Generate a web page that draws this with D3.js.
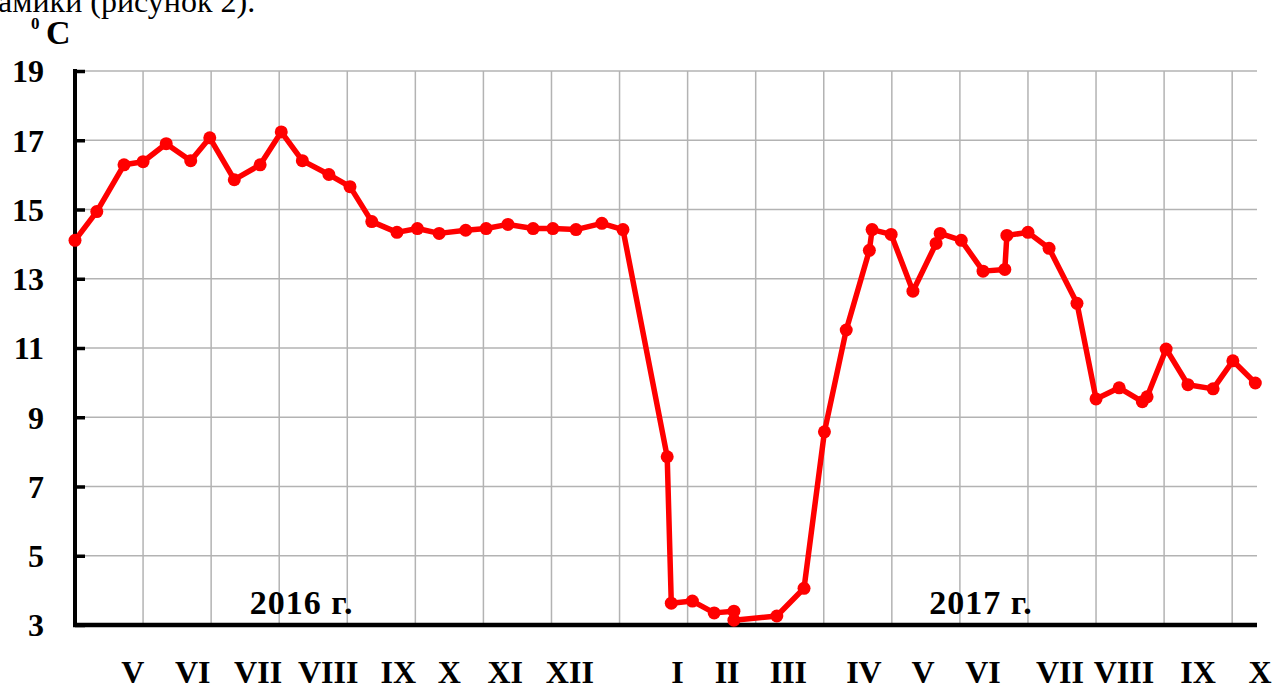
<!DOCTYPE html>
<html>
<head>
<meta charset="utf-8">
<script src="https://cdn.jsdelivr.net/npm/d3@7"></script>
<style>
  html, body { margin: 0; padding: 0; background: #fff; }
  svg { display: block; }
  text { font-family: "Liberation Serif", "Times New Roman", serif; }
</style>
</head>
<body>
<svg id="chart" width="1275" height="686"></svg>
<script>
// Decade-averaged temperature, April 2016 – October 2017.
// x: months elapsed since the start of April 2016; y: temperature, °C.
const monthPos = [0, 0.32, 0.72, 1.0, 1.34, 1.70, 1.98, 2.34, 2.72, 3.03, 3.34, 3.73, 4.04, 4.36, 4.73,
  5.03, 5.35, 5.74, 6.04, 6.36, 6.73, 7.02, 7.36, 7.74, 8.05, 8.70, 8.76, 9.07, 9.39, 9.68, 9.68,
  10.31, 10.71, 11.01, 11.33, 11.67, 11.71, 11.99, 12.31, 12.65, 12.71, 13.02, 13.34, 13.66, 13.69,
  14.00, 14.31, 14.72, 15.00, 15.34, 15.68, 15.75, 16.03, 16.35, 16.72, 17.01, 17.34];
const temperature = [14.11, 14.94, 16.29, 16.38, 16.90, 16.41, 17.07, 15.86, 16.29, 17.24, 16.41, 16.01,
  15.66, 14.65, 14.34, 14.45, 14.31, 14.40, 14.45, 14.57, 14.45, 14.45, 14.42, 14.60, 14.42, 7.86, 3.63,
  3.69, 3.35, 3.40, 3.14, 3.26, 4.06, 8.58, 11.52, 13.82, 14.42, 14.28, 12.64, 14.02, 14.31, 14.11,
  13.22, 13.27, 14.25, 14.34, 13.88, 12.29, 9.53, 9.85, 9.45, 9.59, 10.97, 9.94, 9.82, 10.63, 9.99];

const yTicks = [3, 5, 7, 9, 11, 13, 15, 17, 19];
const monthGrid = d3.range(1, 18);

// Roman month captions under the axis, positioned in the same month units
const monthLabels = ["V", "VI", "VII", "VIII", "IX", "X", "XI", "XII", "I", "II", "III",
  "IV", "V", "VI", "VII", "VIII", "IX", "X"];
const monthLabelPos = [0.85, 1.73, 2.69, 3.72, 4.75, 5.50, 6.32, 7.27, 8.85, 9.58, 10.48,
  11.59, 12.46, 13.34, 14.47, 15.41, 16.50, 17.41];

const yearLabels = ["2016 г.", "2017 г."];
const yearLabelPos = [3.33, 13.31];

const svg = d3.select("#chart");
const x = d3.scaleLinear().domain([0, 17.35]).range([75, 1256]);
const y = d3.scaleLinear().domain([3, 19]).range([625, 71]);

// Running paragraph text above the figure
svg.append("text")
  .attr("x", -2).attr("y", 12)
  .attr("font-size", 32).attr("fill", "#000")
  .text("амики (рисунок 2).");

// Unit label: superscript zero followed by C
svg.append("text").attr("x", 31).attr("y", 29)
  .attr("font-size", 17).attr("font-weight", "bold").attr("fill", "#000").text("0");
svg.append("text").attr("x", 46).attr("y", 44)
  .attr("font-size", 34).attr("font-weight", "bold").attr("fill", "#000").text("C");

// Grid
const grid = svg.append("g").attr("stroke", "#b3b3b3").attr("stroke-width", 1.5);
grid.selectAll("line.h").data(yTicks.filter(d => d > 3)).join("line")
  .attr("x1", x(0)).attr("x2", x.range()[1] + 1)
  .attr("y1", d => y(d)).attr("y2", d => y(d));
grid.selectAll("line.v").data(monthGrid).join("line")
  .attr("x1", d => x(d)).attr("x2", d => x(d))
  .attr("y1", y(19)).attr("y2", y(3));

// Y axis with inward ticks
const yAxis = svg.append("g")
  .attr("transform", `translate(${x(0)},0)`)
  .call(d3.axisLeft(y).tickValues(yTicks).tickSizeInner(-10).tickSizeOuter(0).tickPadding(31));
yAxis.select(".domain").attr("stroke", "#000").attr("stroke-width", 4)
  .attr("d", `M0,${y(19) - 2}V${y(3) + 2}`);
yAxis.selectAll(".tick line").attr("stroke", "#000").attr("stroke-width", 3.5);
yAxis.selectAll(".tick text")
  .attr("font-family", "Liberation Serif, Times New Roman, serif")
  .attr("font-size", 32).attr("font-weight", "bold").attr("fill", "#000")
  .attr("dy", "0.34em");

// X axis baseline
svg.append("line")
  .attr("x1", x(0) - 2).attr("x2", x.range()[1] + 1)
  .attr("y1", y(3)).attr("y2", y(3))
  .attr("stroke", "#000").attr("stroke-width", 4.5);

// Month captions
svg.append("g").selectAll("text").data(monthLabels).join("text")
  .attr("x", (d, i) => x(monthLabelPos[i]))
  .attr("y", 683)
  .attr("text-anchor", "middle")
  .attr("font-size", 32).attr("font-weight", "bold").attr("fill", "#000")
  .text(d => d);

// Year captions inside the plot
svg.append("g").selectAll("text").data(yearLabels).join("text")
  .attr("x", (d, i) => x(yearLabelPos[i]))
  .attr("y", 614)
  .attr("text-anchor", "middle")
  .attr("font-size", 34).attr("font-weight", "bold").attr("letter-spacing", 1)
  .attr("fill", "#000")
  .text(d => d);

// Temperature series
const pts = monthPos.map((m, i) => [m, temperature[i]]);
svg.append("path")
  .datum(pts)
  .attr("fill", "none")
  .attr("stroke", "#ff0000")
  .attr("stroke-width", 5.5)
  .attr("stroke-linejoin", "round")
  .attr("d", d3.line().x(d => x(d[0])).y(d => y(d[1])));
svg.append("g").selectAll("circle").data(pts).join("circle")
  .attr("cx", d => x(d[0])).attr("cy", d => y(d[1]))
  .attr("r", 6.5).attr("fill", "#ff0000");
</script>
</body>
</html>
